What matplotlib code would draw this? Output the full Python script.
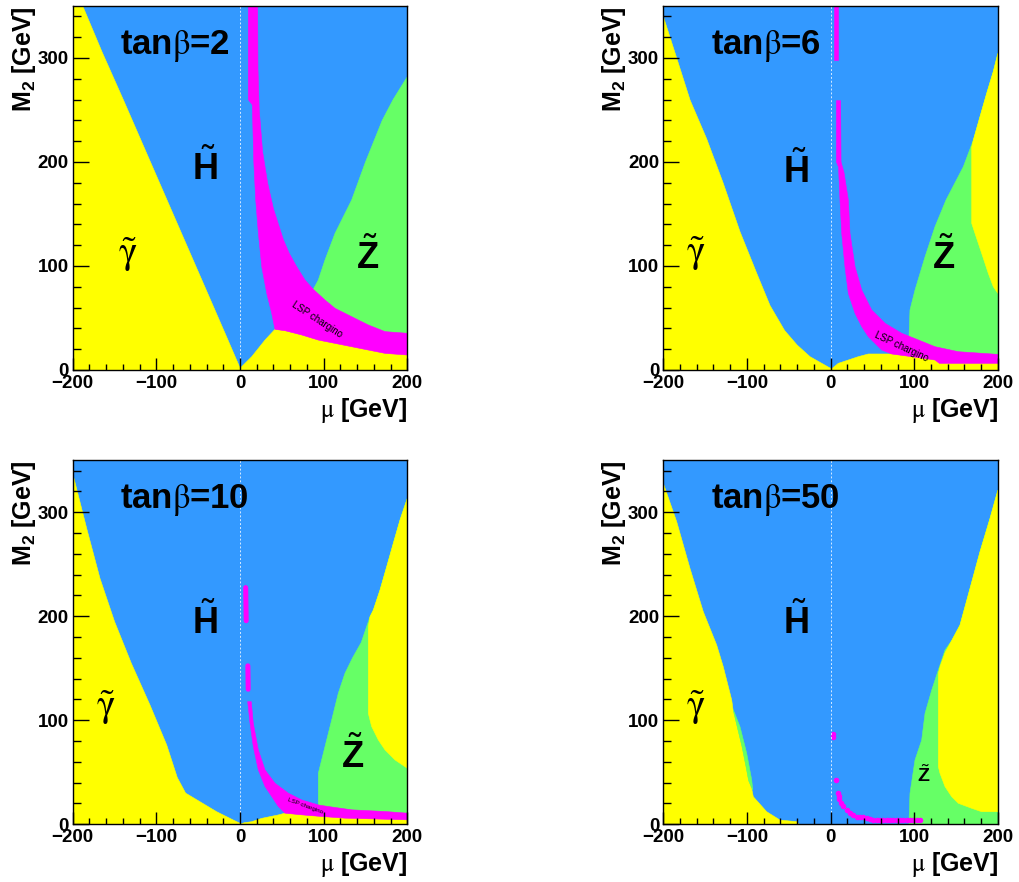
import matplotlib.pyplot as plt
from matplotlib.ticker import MultipleLocator

plt.rcParams['font.family'] = ['Liberation Sans', 'DejaVu Sans']
plt.rcParams['mathtext.fontset'] = 'custom'
plt.rcParams['mathtext.rm'] = 'Liberation Sans'
plt.rcParams['mathtext.it'] = 'Liberation Sans:italic'
plt.rcParams['mathtext.bf'] = 'Liberation Sans:bold'

BLUE = '#3399ff'
YELLOW = '#ffff00'
GREEN = '#66ff66'
MAGENTA = '#ff00ff'

# boundaries, (mu, M2) in GeV
# ---- tan(beta) = 2 ----
tb2_photino = [(-200, 350), (-188, 350), (-165, 306), (-139, 259), (-113, 211), (-87, 163),
               (-61, 115), (-35, 67), (-15, 30), (0, 2)]
tb2_low = [(0, 0), (0, 1.6), (14, 12.8), (29.9, 28.8), (41.8, 39.1), (53.8, 37.8), (73.8, 33.7),
           (93.6, 28.8), (113.6, 25.6), (133.5, 22.4), (153.4, 19.2), (173.4, 16.0), (200, 14.4), (200, 0)]
tb2_zino = [(87.6, 77.6), (93.6, 86.5), (101.6, 105.8), (113.6, 131.4), (133.5, 163.5), (150, 200),
            (170, 240), (183, 260), (200, 282)]
tb2_cha_inner = [(9.9, 350), (9.9, 260), (14.7, 255), (16.5, 200), (18.8, 163.5), (22, 131.4), (26, 99.3),
                 (32, 73.7), (37.9, 54.5), (41.8, 39.1), (53.8, 37.8), (73.8, 33.7), (93.6, 28.8),
                 (113.6, 25.6), (133.5, 22.4), (153.4, 19.2), (173.4, 16.0), (200, 14.4)]
tb2_cha_outer = [(21.1, 350), (21.5, 290), (23, 250), (27, 210), (33, 180), (40, 155), (46, 140),
                 (52, 125), (59, 112), (67.8, 99.3), (77.7, 86.5), (87.6, 77.6), (101.6, 67.3), (113.6, 59.3),
                 (125.5, 54.5), (141.4, 48.1), (153.4, 43.3), (173.4, 36.9), (200, 35.3)]

# ---- tan(beta) = 6 ----
tb6_photino = [(-200, 340), (-184, 300), (-168, 259.6), (-148, 222), (-128.3, 179.5), (-108.3, 133),
               (-88.3, 93), (-72.4, 62), (-55, 38), (-40, 24), (-24.6, 12.8), (0, 1.6)]
tb6_low = [(0, 0), (2, 1.6), (9.2, 6.4), (21.2, 9.6), (33.1, 12.8), (45.1, 15.4), (73, 15.4), (97, 12.8),
           (124.8, 9.6), (130, 6.4), (200, 6.4), (200, 0)]
tb6_zino = [(93.7, 32), (94.9, 57.7), (100.9, 76.9), (112.9, 108.9), (124.8, 137.8), (138, 163.5),
            (158.7, 195.5), (170.6, 221), (178.6, 243.6), (186.6, 266), (194.5, 287), (200, 304.5)]
tb6_zino_yellow = [(200, 304.5), (194.5, 287), (186.6, 266), (178.6, 243.6), (170.6, 221), (168.7, 214.5),
                   (168.7, 141), (172.6, 131.4), (180.6, 112.2), (188.5, 93), (194.5, 80.1), (200, 73.7)]
tb6_cha_top = [(4.4, 350), (4.4, 298), (9.2, 298), (9.2, 350)]
tb6_cha_inner = [(7, 259), (7, 200), (9.5, 195), (11.2, 163.5), (13.3, 131.4), (17.2, 99.3), (21.2, 73.7),
                 (29.2, 54.5), (37.2, 41.7), (45.1, 32), (53.1, 25.6), (61.1, 19.2), (73, 15.4), (97, 12.8),
                 (124.8, 9.6), (130, 6.4), (200, 6.4)]
tb6_cha_outer = [(12, 259), (12.5, 200), (16, 190), (21.2, 163.5), (23.2, 131.4), (29.2, 99.3), (37.2, 76.9),
                 (49.1, 57.7), (65.1, 44.9), (85, 35.3), (104.9, 28.9), (124.8, 22.4), (152.7, 17.6), (200, 15)]

# ---- tan(beta) = 10 ----
tb10_photino = [(-200, 337.5), (-183.3, 284.6), (-167.4, 236.5), (-150, 195), (-130, 155),
                (-107.6, 114.7), (-87.6, 76.2), (-75, 45), (-65, 30), (-47.8, 21.7), (-27.9, 12.1),
                (-8, 4.1), (0, 1)]
tb10_low = [(0, 0), (5, 1.5), (14, 2.5), (25.9, 5.7), (45.8, 9), (53.8, 10.7), (73.8, 9.1), (97.7, 7.5),
            (125.5, 5.9), (200, 4.3), (200, 0)]
tb10_zino = [(93.6, 18.6), (93.6, 49), (101.6, 74.7), (109.6, 100.3), (117.5, 126), (125.5, 145.2),
             (134.5, 160), (145, 175), (155.4, 199.6), (159.4, 206), (167.4, 225.3), (175.4, 247.7),
             (183.3, 270.2), (191.3, 292.6), (200, 313.4)]
tb10_zino_yellow = [(200, 313.4), (191.3, 292.6), (183.3, 270.2), (175.4, 247.7), (167.4, 225.3),
                    (159.4, 206), (155.4, 199.6), (153.4, 190), (153.4, 106.7), (157.4, 94), (165.3, 81.2),
                    (173.4, 71.5), (185.3, 61.9), (200, 53.9)]
tb10_dash_mu = [[6.8, 7.4], [9.4, 9.8]]
tb10_dash_m2 = [[227.6, 195.7], [152.4, 129.9]]
tb10_cha_inner = [(9.2, 117.9), (12, 97.1), (15.9, 74.7), (21.9, 52.3), (29.9, 36.3), (37.9, 26.7),
                  (45.8, 17.1), (53.8, 10.7), (73.8, 9.1), (97.7, 7.5), (125.5, 5.9), (200, 4.3)]
tb10_cha_outer = [(13.5, 117.9), (15.9, 97.1), (21.9, 71.5), (29.9, 52.3), (41.8, 39.5), (57.8, 29.9),
                  (73.8, 23.4), (93.7, 18.6), (105.6, 17.1), (133.5, 13.9), (173.4, 12.3), (200, 10.7)]

# ---- tan(beta) = 50 ----
tb50_photino = [(-200, 327.9), (-184, 291), (-168.1, 246.1), (-152.2, 204.4), (-136.2, 172.4),
                (-128.3, 151.5), (-118.2, 119.5), (-116.3, 108.3), (-112, 95), (-106, 75), (-101, 55),
                (-98, 42), (-94.3, 34), (-92.4, 26.5), (-76.4, 12.1), (-60.5, 4.1), (-40.5, 2.5), (-38, 0)]
tb50_zino_left = [(-116.3, 110), (-108.3, 93.8), (-100.3, 68.3), (-94.3, 42.6), (-93, 33),
                  (-98, 42), (-101, 55), (-106, 75), (-112, 95)]
tb50_zino = [(93.7, 0), (93.7, 2.5), (94.9, 29.8), (100.9, 61.8), (108.9, 81), (112.9, 106.7),
             (120.9, 129.1), (128.8, 148.4), (136.8, 167.6), (145, 177), (154.7, 191.6), (166.7, 226.9),
             (178.6, 262.1), (190.6, 294.2), (200, 321.4)]
tb50_zino_yellow = [(200, 321.4), (190.6, 294.2), (178.6, 262.1), (166.7, 226.9), (154.7, 191.6),
                    (145, 177), (136.8, 165), (131, 152), (128.8, 145), (128.8, 55.4), (130.8, 49),
                    (136.8, 36.2), (144.8, 26.5), (152.7, 20.2), (168.7, 15.4), (180.6, 12.1), (200, 12.1)]
tb50_dots_mu = [3.2, 3.2, 6.5, 9.2, 9.8, 10.6, 12.1, 15.2, 19.3, 23.2, 27.2, 31, 35, 39, 43, 47, 51,
                55, 59, 63, 67, 71, 75, 79, 83, 87, 91, 95, 99, 103, 107]
tb50_dots_m2 = [87, 84, 42.6, 29.8, 27, 24, 20.8, 17.6, 13.8, 11.2, 9, 7.4, 7, 7, 6.5, 5.5, 4.5,
                4, 4, 4, 4, 4, 4, 4, 4, 4, 4, 4, 4, 4, 4]

# label positions (mu, M2)
tanb_values = [2, 6, 10, 50]
higgsino_pos = [(-42, 194), (-41.6, 191), (-41.6, 194), (-41.6, 194)]
photino_pos = [(-134.5, 111), (-161, 112), (-160, 112), (-161, 112)]
zino_pos = [(152.4, 108.6), (135.6, 108.7), (134.5, 65.7), (111.5, 47.4)]
zino_size = [26, 26, 26, 14]
lsp_pos = [(91.7, 48), (85, 22.4), (77.7, 17.9), None]
lsp_rot = [-33, -25, -20, 0]
lsp_size = [7, 7, 4.5, 0]


def poly(ax, pts, color):
    ax.fill([p[0] for p in pts], [p[1] for p in pts], facecolor=color, edgecolor=color, lw=0.4, zorder=1)


fig = plt.figure(figsize=(10.2, 8.82), dpi=100)
W, H = 0.32804, 0.4127
boxes = [[0.07127, 0.5805, W, H], [0.65029, 0.5805, W, H],
         [0.07127, 0.06542, W, H], [0.65029, 0.06542, W, H]]

panels = [
    dict(photino=tb2_photino, low=tb2_low, zino=tb2_zino, zyel=None,
         bands=[(tb2_cha_inner, tb2_cha_outer)], extra=[]),
    dict(photino=tb6_photino, low=tb6_low, zino=tb6_zino, zyel=tb6_zino_yellow,
         bands=[(tb6_cha_inner, tb6_cha_outer)], extra=[tb6_cha_top]),
    dict(photino=tb10_photino, low=tb10_low, zino=tb10_zino, zyel=tb10_zino_yellow,
         bands=[(tb10_cha_inner, tb10_cha_outer)], extra=[]),
    dict(photino=tb50_photino, low=None, zino=tb50_zino, zyel=tb50_zino_yellow,
         bands=[], extra=[]),
]

for i, p in enumerate(panels):
    ax = fig.add_axes(boxes[i])
    ax.set_facecolor(BLUE)
    ax.set_xlim(-200, 200)
    ax.set_ylim(0, 350)

    # gaugino (photino) region on the left
    ph = p['photino']
    poly(ax, [(-200, 0)] + ph + [(ph[-1][0], 0)], YELLOW)
    if i == 3:
        poly(ax, tb50_zino_left, GREEN)

    # zino region on the right
    z = p['zino']
    poly(ax, z + [(200, 0), (z[0][0], 0)], GREEN)
    if p['zyel'] is not None:
        poly(ax, p['zyel'], YELLOW)
    if p['low'] is not None:
        poly(ax, p['low'], YELLOW)

    # LSP chargino
    for inner, outer in p['bands']:
        poly(ax, inner + outer[::-1], MAGENTA)
    for piece in p['extra']:
        poly(ax, piece, MAGENTA)
    if i == 2:
        for mx, my in zip(tb10_dash_mu, tb10_dash_m2):
            ax.plot(mx, my, color=MAGENTA, lw=3.6, solid_capstyle='round', zorder=1.1)
    if i == 3:
        ax.plot(tb50_dots_mu, tb50_dots_m2, 'o', color=MAGENTA, ms=4, mew=0, zorder=1.1)

    ax.axvline(0, color='#d6eaff', lw=0.7, ls=(0, (2, 2)), zorder=1.2)

    # labels
    ax.text(-143.5, 312, r'tan$\mathrm{\beta}$=%d' % tanb_values[i], fontsize=25, fontweight='bold',
            ha='left', va='center', math_fontfamily='stix')
    ax.text(*higgsino_pos[i], r'$\tilde{\mathbf{H}}$', fontsize=26, ha='center', va='center')
    ax.text(*photino_pos[i], r'$\tilde{\mathrm{\gamma}}$', fontsize=28, ha='center', va='center',
            math_fontfamily='stix')
    ax.text(*zino_pos[i], r'$\tilde{\mathbf{Z}}$', fontsize=zino_size[i], ha='center', va='center')
    if lsp_pos[i] is not None:
        ax.text(*lsp_pos[i], 'LSP chargino', fontsize=lsp_size[i], rotation=lsp_rot[i],
                ha='center', va='center', rotation_mode='anchor')

    # ROOT-like axes
    ax.xaxis.set_major_locator(MultipleLocator(100))
    ax.xaxis.set_minor_locator(MultipleLocator(20))
    ax.yaxis.set_major_locator(MultipleLocator(100))
    ax.yaxis.set_minor_locator(MultipleLocator(20))
    ax.tick_params(which='both', direction='in', top=False, right=False, width=1.0, labelsize=13.5)
    ax.tick_params(axis='x', which='major', length=8.5, pad=3.5)
    ax.tick_params(axis='x', which='minor', length=4)
    ax.tick_params(axis='y', which='major', length=11.5, pad=3)
    ax.tick_params(axis='y', which='minor', length=5.5)
    plt.setp(ax.get_xticklabels() + ax.get_yticklabels(), fontweight='bold')
    for s in ax.spines.values():
        s.set_linewidth(1.0)

    ax.text(1.0, -0.11, r'$\mathrm{\mu}$ [GeV]', transform=ax.transAxes, ha='right', va='center',
            fontsize=18, fontweight='bold', math_fontfamily='stix')
    ax.text(-0.147, 1.0, r'M$_{\mathbf{2}}$ [GeV]', transform=ax.transAxes, rotation=90,
            ha='center', va='top', fontsize=18, fontweight='bold')

fig.savefig('out.png', dpi=100)
